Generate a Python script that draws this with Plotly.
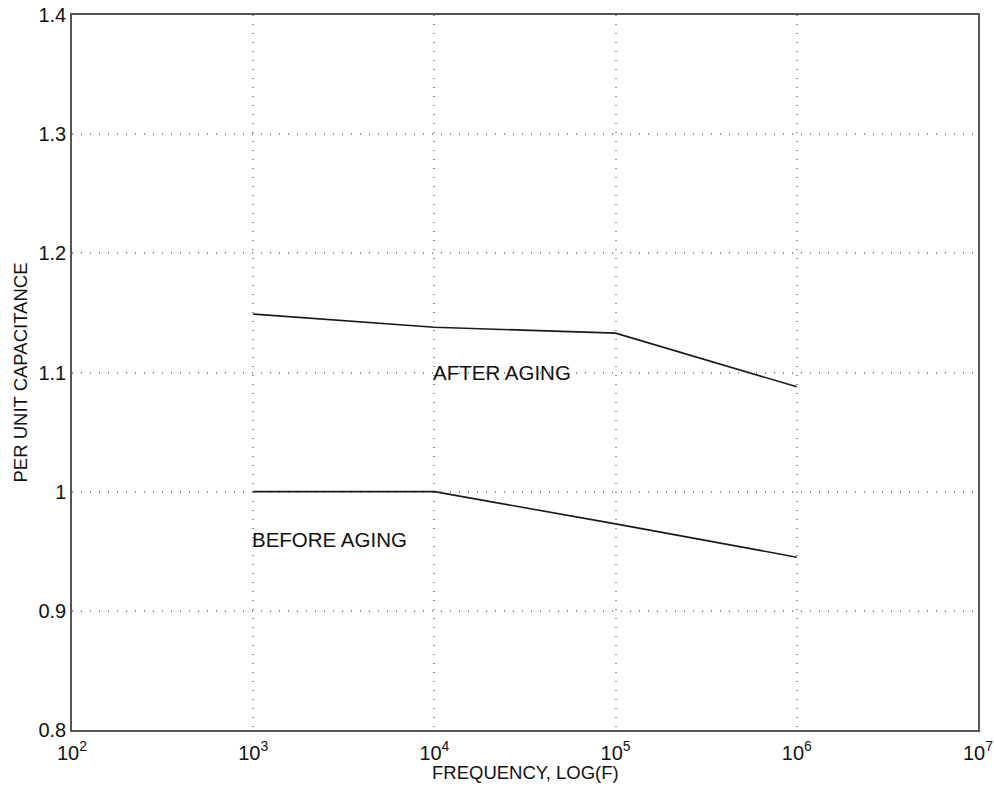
import plotly.graph_objects as go

freq = [1e3, 1e4, 1e5, 1e6]
after_aging = [1.149, 1.138, 1.133, 1.088]
before_aging = [1.0, 1.0, 0.973, 0.945]
x_tick_vals = [1e2, 1e3, 1e4, 1e5, 1e6, 1e7]
x_tick_text = ["10<sup>2</sup>", "10<sup>3</sup>", "10<sup>4</sup>", "10<sup>5</sup>",
               "10<sup>6</sup>", "10<sup>7</sup>"]
y_tick_vals = [0.8, 0.9, 1.0, 1.1, 1.2, 1.3, 1.4]
y_tick_text = ["0.8", "0.9", "1", "1.1", "1.2", "1.3", "1.4"]

FONT = "Liberation Sans, Arial, Helvetica, sans-serif"

fig = go.Figure()
fig.add_trace(go.Scatter(x=freq, y=after_aging, mode="lines",
                         line=dict(color="#1a1a1a", width=1.6), showlegend=False))
fig.add_trace(go.Scatter(x=freq, y=before_aging, mode="lines",
                         line=dict(color="#1a1a1a", width=1.6), showlegend=False))

fig.add_annotation(x=4, y=1.1, xref="x", yref="y", text="AFTER AGING",
                   showarrow=False, xanchor="left", yanchor="middle", xshift=-3,
                   font=dict(family=FONT, size=20.5, color="#111"))
fig.add_annotation(x=3, y=0.96, xref="x", yref="y", text="BEFORE AGING",
                   showarrow=False, xanchor="left", yanchor="middle", xshift=-3,
                   font=dict(family=FONT, size=20.5, color="#111"))

fig.add_annotation(x=0.5, y=0, xref="paper", yref="paper", yshift=-42,
                   text="FREQUENCY, LOG(F)", showarrow=False,
                   xanchor="center", yanchor="middle",
                   font=dict(family=FONT, size=18.5, color="#111"))
fig.add_annotation(x=0, y=0.5, xref="paper", yref="paper", xshift=-52,
                   text="PER UNIT CAPACITANCE", showarrow=False, textangle=-90,
                   xanchor="center", yanchor="middle",
                   font=dict(family=FONT, size=18.5, color="#111"))

axis_common = dict(showline=True, linecolor="#555", linewidth=1.5, mirror=True,
                   showgrid=True, gridcolor="#8f8f8f", griddash="1px,8px", gridwidth=1.5,
                   zeroline=False, ticks="", automargin=False,
                   tickfont=dict(family=FONT, size=20, color="#111"))

fig.update_xaxes(type="log", range=[2, 7], tickvals=x_tick_vals, ticktext=x_tick_text,
                 ticklabelstandoff=4, **axis_common)
fig.update_yaxes(range=[0.8, 1.4], tickvals=y_tick_vals, ticktext=y_tick_text,
                 **axis_common)

fig.update_layout(width=994, height=792, plot_bgcolor="white", paper_bgcolor="white",
                  margin=dict(l=72, r=16, t=15, b=62, autoexpand=False),
                  font=dict(family=FONT, color="#111"))

fig.write_html("out.html", config={"displayModeBar": False},
               post_script="document.body.style.margin='0';document.body.style.overflow='hidden';")
